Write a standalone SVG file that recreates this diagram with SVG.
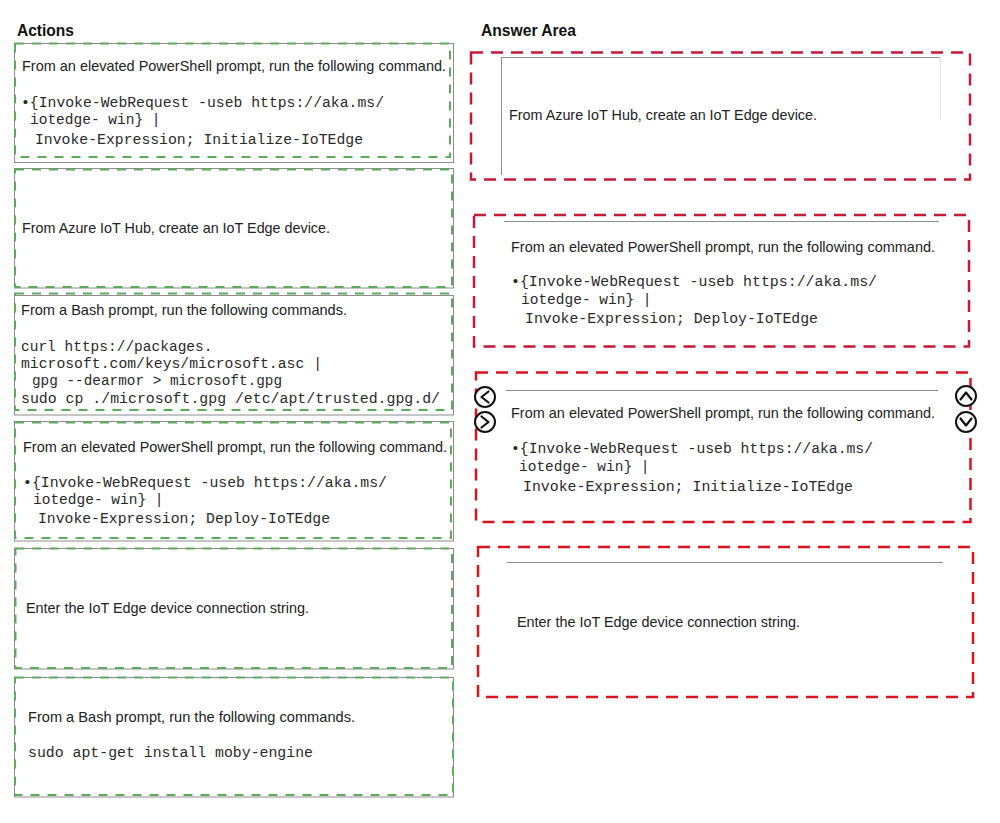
<svg xmlns="http://www.w3.org/2000/svg" width="1000" height="823" viewBox="0 0 1000 823">
<style>
.bg{fill:#ffffff}
.card{fill:#ffffff;stroke:#8c8c8c;stroke-width:1}
.gd{fill:none;stroke:#5aab5a;stroke-width:2;stroke-dasharray:9 8}
.rd{fill:none;stroke:#d9141e;stroke-width:2.5;stroke-dasharray:12 8}
.rd2{fill:none;stroke:#c41a3a;stroke-width:2.5;stroke-dasharray:12 8}
.gl{stroke:#8c8c8c;stroke-width:1;fill:none}
.h{font-family:"Liberation Sans",Arial,sans-serif;font-weight:bold;font-size:16px;fill:#111}
.t{font-family:"Liberation Sans",Arial,sans-serif;font-size:14.5px;fill:#222}
.m{font-family:"Liberation Mono","Courier New",monospace;font-size:14.5px;fill:#2a2a2a;white-space:pre}
.ic{fill:#ffffff;stroke:#111;stroke-width:2}
.ch{fill:none;stroke:#111;stroke-width:2.2;stroke-linecap:round;stroke-linejoin:round}
</style>
<rect class="bg" x="0" y="0" width="1000" height="823"/>
<text class="h" x="17" y="36" textLength="57" lengthAdjust="spacingAndGlyphs">Actions</text>
<text class="h" x="481" y="36" textLength="95" lengthAdjust="spacingAndGlyphs">Answer Area</text>

<g id="action1">
<rect class="card" x="14.5" y="43.5" width="439" height="119"/>
<rect class="gd" x="15" y="43.5" width="435" height="113.5"/>
<text class="t" x="22" y="71" textLength="424" lengthAdjust="spacingAndGlyphs">From an elevated PowerShell prompt, run the following command.</text>
<text class="m" x="21" y="107" textLength="363" lengthAdjust="spacingAndGlyphs">•{Invoke-WebRequest -useb https://aka.ms/</text>
<text class="m" x="30" y="124">iotedge- win} |</text>
<text class="m" x="35" y="144" textLength="328" lengthAdjust="spacingAndGlyphs">Invoke-Expression; Initialize-IoTEdge</text>
</g>

<g id="action2">
<rect class="card" x="14.5" y="168.5" width="439" height="119.5"/>
<rect class="gd" x="15" y="169.5" width="437" height="117.5"/>
<text class="t" x="22" y="233" textLength="308" lengthAdjust="spacingAndGlyphs">From Azure IoT Hub, create an IoT Edge device.</text>
</g>

<g id="action3">
<rect class="card" x="14.5" y="295.5" width="439" height="119.5"/>
<rect class="gd" x="15" y="293.5" width="437" height="116.5"/>
<text class="t" x="21" y="315" textLength="326" lengthAdjust="spacingAndGlyphs">From a Bash prompt, run the following commands.</text>
<text class="m" x="21" y="351">curl https://packages.</text>
<text class="m" x="21" y="368" textLength="301" lengthAdjust="spacingAndGlyphs">microsoft.com/keys/microsoft.asc |</text>
<text class="m" x="32" y="385" textLength="250" lengthAdjust="spacingAndGlyphs">gpg --dearmor &gt; microsoft.gpg</text>
<text class="m" x="21" y="403" textLength="419" lengthAdjust="spacingAndGlyphs">sudo cp ./microsoft.gpg /etc/apt/trusted.gpg.d/</text>
</g>

<g id="action4">
<rect class="card" x="14.5" y="421.5" width="439" height="119.5"/>
<rect class="gd" x="15" y="422.5" width="436" height="115.5"/>
<text class="t" x="23" y="452" textLength="424" lengthAdjust="spacingAndGlyphs">From an elevated PowerShell prompt, run the following command.</text>
<text class="m" x="23" y="487" textLength="364" lengthAdjust="spacingAndGlyphs">•{Invoke-WebRequest -useb https://aka.ms/</text>
<text class="m" x="33" y="504">iotedge- win} |</text>
<text class="m" x="38" y="523" textLength="292" lengthAdjust="spacingAndGlyphs">Invoke-Expression; Deploy-IoTEdge</text>
</g>

<g id="action5">
<rect class="card" x="14.5" y="548.5" width="439" height="120.5"/>
<rect class="gd" x="15.5" y="548.5" width="436.5" height="119.5"/>
<text class="t" x="26" y="613" textLength="283" lengthAdjust="spacingAndGlyphs">Enter the IoT Edge device connection string.</text>
</g>

<g id="action6">
<rect class="card" x="14.5" y="677.5" width="439" height="119.5"/>
<rect class="gd" x="15" y="677.5" width="438" height="117.5"/>
<text class="t" x="28" y="722" textLength="327" lengthAdjust="spacingAndGlyphs">From a Bash prompt, run the following commands.</text>
<text class="m" x="28" y="757" textLength="285" lengthAdjust="spacingAndGlyphs">sudo apt-get install moby-engine</text>
</g>

<g id="answer1">
<rect class="rd2" x="471" y="52.5" width="499" height="127"/>
<polyline class="gl" points="501.5,175 501.5,57.5 940,57.5"/>
<line x1="940.5" y1="58" x2="940.5" y2="120" stroke="#e6e6e6" stroke-width="1"/>
<text class="t" x="509" y="120" textLength="308" lengthAdjust="spacingAndGlyphs">From Azure IoT Hub, create an IoT Edge device.</text>
</g>

<g id="answer2">
<rect class="rd2" x="474" y="215" width="495" height="131.5"/>
<line class="gl" x1="504" y1="221.5" x2="939" y2="221.5"/>
<text class="t" x="511" y="252" textLength="424" lengthAdjust="spacingAndGlyphs">From an elevated PowerShell prompt, run the following command.</text>
<text class="m" x="511" y="286" textLength="366" lengthAdjust="spacingAndGlyphs">•{Invoke-WebRequest -useb https://aka.ms/</text>
<text class="m" x="521" y="304">iotedge- win} |</text>
<text class="m" x="525" y="323" textLength="293" lengthAdjust="spacingAndGlyphs">Invoke-Expression; Deploy-IoTEdge</text>
</g>

<g id="answer3">
<rect class="rd" x="476" y="372.5" width="494.5" height="149.5"/>
<line class="gl" x1="506" y1="390.5" x2="938" y2="390.5"/>
<text class="t" x="511" y="418" textLength="424" lengthAdjust="spacingAndGlyphs">From an elevated PowerShell prompt, run the following command.</text>
<text class="m" x="511" y="453" textLength="362" lengthAdjust="spacingAndGlyphs">•{Invoke-WebRequest -useb https://aka.ms/</text>
<text class="m" x="519" y="471">iotedge- win} |</text>
<text class="m" x="523" y="491" textLength="330" lengthAdjust="spacingAndGlyphs">Invoke-Expression; Initialize-IoTEdge</text>
<g id="controls">
<circle class="ic" cx="485" cy="397" r="10"/>
<polyline class="ch" points="488.5,391.5 481.5,397 488.5,402.5"/>
<circle class="ic" cx="485" cy="422" r="10"/>
<polyline class="ch" points="481.5,416.5 488.5,422 481.5,427.5"/>
<circle class="ic" cx="966" cy="396" r="10"/>
<polyline class="ch" points="960.5,399.5 966,392.5 971.5,399.5"/>
<circle class="ic" cx="966" cy="422" r="10"/>
<polyline class="ch" points="960.5,418.5 966,425.5 971.5,418.5"/>
</g>
</g>

<g id="answer4">
<rect class="rd" x="478" y="547" width="495" height="150"/>
<line class="gl" x1="507" y1="562.5" x2="943" y2="562.5"/>
<text class="t" x="517" y="627" textLength="283" lengthAdjust="spacingAndGlyphs">Enter the IoT Edge device connection string.</text>
</g>

<g id="connectors"></g>
</svg>
